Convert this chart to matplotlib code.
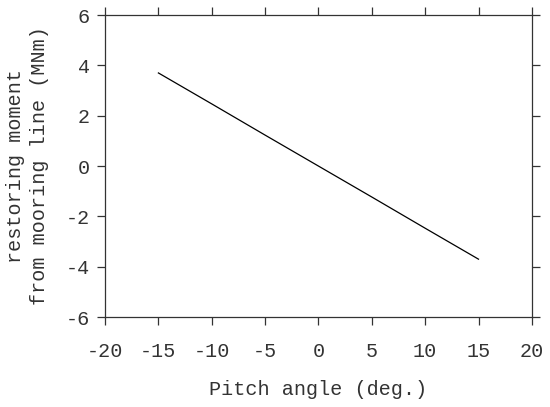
import matplotlib
matplotlib.use("Agg")
import matplotlib.pyplot as plt

# pitch angle (deg.) vs restoring moment (MNm)
pitch = [-15, -10, -5, 0, 5, 10, 15]
moment = [3.7, 2.47, 1.23, 0.0, -1.23, -2.47, -3.7]

xticks = [-20, -15, -10, -5, 0, 5, 10, 15, 20]
yticks = [-6, -4, -2, 0, 2, 4, 6]

plt.rcParams["font.family"] = ["Liberation Mono", "DejaVu Sans Mono"]
plt.rcParams["axes.unicode_minus"] = False

fig = plt.figure(figsize=(5.5, 4.07), dpi=100)
ax = fig.add_axes([0.191, 0.221, 0.776, 0.742])

ax.plot(pitch, moment, color="black", linewidth=0.9)

ax.set_xlim(-20, 20)
ax.set_ylim(-6, 6)
ax.set_xticks(xticks)
ax.set_yticks(yticks)

ax.tick_params(direction="out", length=6, width=0.9, colors="#333333",
               labelsize=14.5, top=True, right=True, pad=5)
ax.tick_params(axis="x", pad=12)
for sp in ax.spines.values():
    sp.set_linewidth(0.9)
    sp.set_color("#333333")

ax.set_xlabel("Pitch angle (deg.)", fontsize=14.5, color="#333333", labelpad=14)
ax.set_ylabel("restoring moment\nfrom mooring line (MNm)", fontsize=14.5,
              color="#333333", labelpad=12, linespacing=1.35)

fig.savefig("out.png", dpi=100)
